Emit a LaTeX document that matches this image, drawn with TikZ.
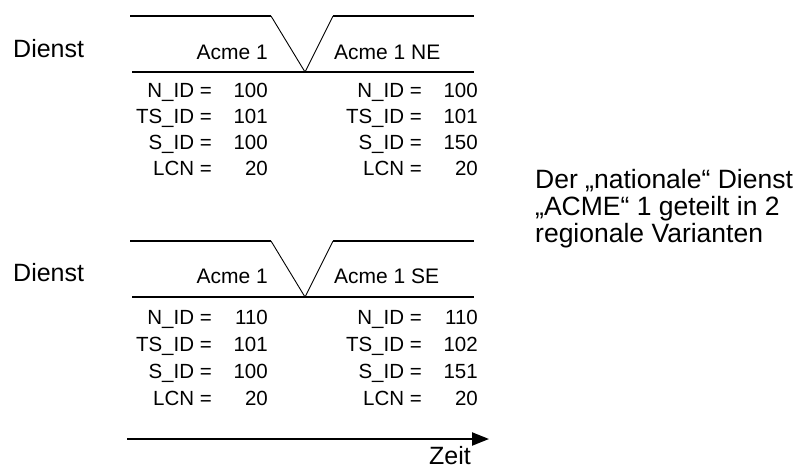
\documentclass[tikz,border=0pt]{standalone}
\usepackage{fontspec}
\setmainfont{Liberation Sans}
\usetikzlibrary{arrows.meta}
\tikzset{
  big/.style={font=\fontsize{25}{27}\selectfont, inner sep=0pt},
  note/.style={font=\fontsize{26.5}{27}\selectfont, inner sep=0pt},
  acme/.style={font=\fontsize{21}{24}\selectfont, inner sep=0pt},
  par/.style={font=\fontsize{20.5}{24}\selectfont, inner sep=0pt},
  rail/.style={line width=1.8pt},
  base/.style={line width=1.3pt},
  diag/.style={line width=0.9pt},
}
\begin{document}
\begin{tikzpicture}[x=1pt,y=-1pt]
\useasboundingbox (0,0) rectangle (798,469);
% ---------- top block ----------
\node[big,anchor=base west] (d1) at (13,57) {Dienst};
\coordinate (t1a) at (130,16);
\coordinate (t1b) at (271,16);
\coordinate (v1) at (305,72);
\coordinate (t1c) at (333,16);
\coordinate (t1d) at (474,16);
\coordinate (b1a) at (132,72);
\coordinate (b1b) at (474,72);
\draw[rail] (t1a) -- (t1b);
\draw[rail] (t1c) -- (t1d);
\draw[diag] (t1b) -- (v1) -- (t1c);
\draw[base] (b1a) -- (b1b);
\node[acme,anchor=base east] (a1) at (268,59) {Acme 1};
\node[acme,anchor=base west] (a2) at (334,59) {Acme 1 NE};
\foreach \lab/\va/\vb [count=\i] in {N\_ID =/100/100, TS\_ID =/101/101, S\_ID =/100/150, LCN =/20/20}{
  \node[par,anchor=base east] (tl\i) at (212,71+26*\i) {\lab};
  \node[par,anchor=base east] (tv\i) at (268,71+26*\i) {\va};
  \node[par,anchor=base east] (tr\i) at (422,71+26*\i) {\lab};
  \node[par,anchor=base east] (tw\i) at (478,71+26*\i) {\vb};
}
% ---------- bottom block ----------
\node[big,anchor=base west] (d2) at (13,281) {Dienst};
\coordinate (t2a) at (130,241);
\coordinate (t2b) at (271,241);
\coordinate (v2) at (305,297);
\coordinate (t2c) at (333,241);
\coordinate (t2d) at (474,241);
\coordinate (b2a) at (132,297);
\coordinate (b2b) at (474,297);
\draw[rail] (t2a) -- (t2b);
\draw[rail] (t2c) -- (t2d);
\draw[diag] (t2b) -- (v2) -- (t2c);
\draw[base] (b2a) -- (b2b);
\node[acme,anchor=base east] (a3) at (268,283) {Acme 1};
\node[acme,anchor=base west] (a4) at (334,283) {Acme 1 SE};
\foreach \lab/\va/\lbb/\vb [count=\i] in {N\_ID =/110/N\_ID =/110, TS\_ID =/101/TS\_ID =/102, S\_ID =/100/S\_ID =/151, LCN =/20/LCN =/20}{
  \node[par,anchor=base east] (bl\i) at (212,297+27*\i) {\lab};
  \node[par,anchor=base east] (bv\i) at (268,297+27*\i) {\va};
  \node[par,anchor=base east] (br\i) at (422,297+27*\i) {\lbb};
  \node[par,anchor=base east] (bw\i) at (478,297+27*\i) {\vb};
}
% ---------- time axis ----------
\coordinate (z0) at (127,439);
\coordinate (z1) at (489,439);
\draw[line width=2.2pt,-{Triangle[length=17pt,width=13pt]}] (z0) -- (z1);
\node[big,anchor=base east] (zeit) at (471,464) {Zeit};
% ---------- note ----------
\node[note,anchor=base west] (n1) at (535,188) {Der „nationale“ Dienst};
\node[note,anchor=base west] (n2) at (535,215) {„ACME“ 1 geteilt in 2};
\node[note,anchor=base west] (n3) at (535,242) {regionale Varianten};
\end{tikzpicture}
\end{document}
